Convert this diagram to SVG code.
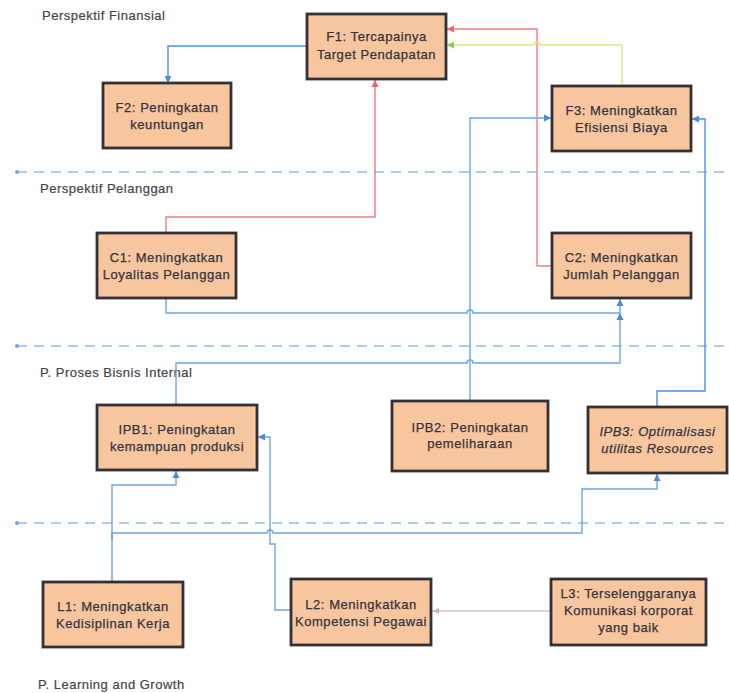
<svg xmlns="http://www.w3.org/2000/svg" width="729" height="693" viewBox="0 0 729 693">
  <style>
    .box { fill: #f7c59e; stroke: #333135; stroke-width: 2.8; }
    .t { font-family: "Liberation Sans", Arial, sans-serif; font-size: 13px; letter-spacing: 0.55px; fill: #34343e; stroke: #34343e; stroke-width: 0.25; text-anchor: middle; }
    .it { font-style: italic; }
    .lane { font-family: "Liberation Sans", Arial, sans-serif; font-size: 13px; letter-spacing: 0.5px; fill: #44444c; stroke: #44444c; stroke-width: 0.2; }
    .sep { stroke: #8fbfea; stroke-width: 1.4; stroke-dasharray: 10 7; fill: none; }
    .blue { stroke: #6aa6ea; stroke-width: 1.4; fill: none; marker-end: url(#ab); }
    .blue2 { stroke: #4f8fe0; stroke-width: 1.4; fill: none; marker-end: url(#ab); }
    .red { stroke: #f07a86; stroke-width: 1.4; fill: none; marker-end: url(#ar); }
    .yel { stroke: #dfe878; stroke-width: 1.4; fill: none; marker-end: url(#ag); }
    .gray { stroke: #dcc0c6; stroke-width: 1.4; fill: none; marker-end: url(#ap); }
  </style>
  <defs>
    <marker id="ab" markerUnits="userSpaceOnUse" markerWidth="8" markerHeight="8" refX="7" refY="4" orient="auto">
      <path d="M0,0.5 L7,4 L0,7.5 z" fill="#4c8ae0"/>
    </marker>
    <marker id="ar" markerUnits="userSpaceOnUse" markerWidth="8" markerHeight="8" refX="7" refY="4" orient="auto">
      <path d="M0,0.5 L7,4 L0,7.5 z" fill="#f0606e"/>
    </marker>
    <marker id="ag" markerUnits="userSpaceOnUse" markerWidth="8" markerHeight="8" refX="7" refY="4" orient="auto">
      <path d="M0,0.5 L7,4 L0,7.5 z" fill="#8cd040"/>
    </marker>
    <marker id="ap" markerUnits="userSpaceOnUse" markerWidth="8" markerHeight="8" refX="7" refY="4" orient="auto">
      <path d="M0,1 L6,4 L0,7 z" fill="#d8aab4"/>
    </marker>
  </defs>

  <rect width="729" height="693" fill="#ffffff"/>

  <!-- perspective separators -->
  <g id="separators">
    <line class="sep" x1="17" y1="172" x2="729" y2="172"/>
    <line class="sep" x1="17" y1="346" x2="729" y2="346"/>
    <line class="sep" x1="17" y1="523" x2="729" y2="523"/>
    <circle cx="17" cy="172" r="2" fill="#6aa6ea"/>
    <circle cx="17" cy="346" r="2" fill="#6aa6ea"/>
    <circle cx="17" cy="523" r="2" fill="#6aa6ea"/>
  </g>

  <!-- perspective labels -->
  <g id="labels">
    <text class="lane" x="42" y="20">Perspektif Finansial</text>
    <text class="lane" x="40" y="193">Perspektif Pelanggan</text>
    <text class="lane" x="40" y="377">P. Proses Bisnis Internal</text>
    <text class="lane" x="38" y="689">P. Learning and Growth</text>
  </g>

  <!-- connectors -->
  <g id="connectors">
    <!-- F1 -> F2 -->
    <path class="blue2" d="M307,46 H168 V83"/>
    <!-- C1 -> F1 -->
    <path class="red" d="M166,233 V217 H375 V80"/>
    <!-- C2 -> F1 -->
    <path class="red" d="M552,266 H537 V29 H447"/>
    <!-- F3 -> F1 -->
    <path class="yel" d="M622,86 V45 H540 A3,3 0 0 0 534,45 H447"/>
    <!-- IPB2 -> F3 -->
    <path class="blue" d="M470,401 V118 H551"/>
    <!-- IPB3 -> F3 -->
    <path class="blue2" d="M657,407 V391 H705 V119 H692"/>
    <!-- C1 -> C2 -->
    <path class="blue" d="M166,298 V313 H467 A3,3 0 0 1 473,313 H620 V299"/>
    <!-- IPB1 -> C2 -->
    <path class="blue" d="M176,405 V363 H467 A3,3 0 0 1 473,363 H620 V313"/>
    <!-- L1 -> IPB1 -->
    <path class="blue" d="M112,582 V485 H176 V471"/>
    <!-- L2 -> IPB1 -->
    <path class="blue" d="M291,610 H275 V544 H270 V437 H258"/>
    <!-- L1 -> IPB3 -->
    <path class="blue" d="M112,540 V533 H267 A3,3 0 0 1 273,533 H582 V489 H657 V474"/>
    <!-- L3 -> L2 -->
    <path class="gray" d="M551,611 H432"/>
  </g>

  <!-- nodes -->
  <g id="F1">
    <rect class="box" x="307" y="14" width="139" height="65"/>
    <text class="t" x="376.5" y="41">F1: Tercapainya</text>
    <text class="t" x="376.5" y="59">Target Pendapatan</text>
  </g>
  <g id="F2">
    <rect class="box" x="103" y="83" width="128" height="65"/>
    <text class="t" x="167" y="112">F2: Peningkatan</text>
    <text class="t" x="167" y="129">keuntungan</text>
  </g>
  <g id="F3">
    <rect class="box" x="552" y="86" width="139" height="65"/>
    <text class="t" x="621.5" y="115">F3: Meningkatkan</text>
    <text class="t" x="621.5" y="132">Efisiensi Biaya</text>
  </g>
  <g id="C1">
    <rect class="box" x="97" y="233" width="139" height="65"/>
    <text class="t" x="166.5" y="262">C1: Meningkatkan</text>
    <text class="t" x="166.5" y="279">Loyalitas Pelanggan</text>
  </g>
  <g id="C2">
    <rect class="box" x="552" y="233" width="139" height="65"/>
    <text class="t" x="621.5" y="262">C2: Meningkatkan</text>
    <text class="t" x="621.5" y="279">Jumlah Pelanggan</text>
  </g>
  <g id="IPB1">
    <rect class="box" x="97" y="405" width="160" height="65"/>
    <text class="t" x="177" y="434">IPB1: Peningkatan</text>
    <text class="t" x="177" y="451">kemampuan produksi</text>
  </g>
  <g id="IPB2">
    <rect class="box" x="392" y="401" width="156" height="70"/>
    <text class="t" x="470" y="432">IPB2: Peningkatan</text>
    <text class="t" x="470" y="448">pemeliharaan</text>
  </g>
  <g id="IPB3">
    <rect class="box" x="588" y="407" width="139" height="66"/>
    <text class="t it" x="657.5" y="436">IPB3: Optimalisasi</text>
    <text class="t it" x="657.5" y="453">utilitas Resources</text>
  </g>
  <g id="L1">
    <rect class="box" x="43" y="582" width="140" height="65"/>
    <text class="t" x="113" y="611">L1: Meningkatkan</text>
    <text class="t" x="113" y="628">Kedisiplinan Kerja</text>
  </g>
  <g id="L2">
    <rect class="box" x="291" y="579" width="140" height="66"/>
    <text class="t" x="361" y="609">L2: Meningkatkan</text>
    <text class="t" x="361" y="626">Kompetensi Pegawai</text>
  </g>
  <g id="L3">
    <rect class="box" x="551" y="579" width="155" height="66"/>
    <text class="t" x="628.5" y="598">L3: Terselenggaranya</text>
    <text class="t" x="628.5" y="615">Komunikasi korporat</text>
    <text class="t" x="628.5" y="632">yang baik</text>
  </g>
</svg>
